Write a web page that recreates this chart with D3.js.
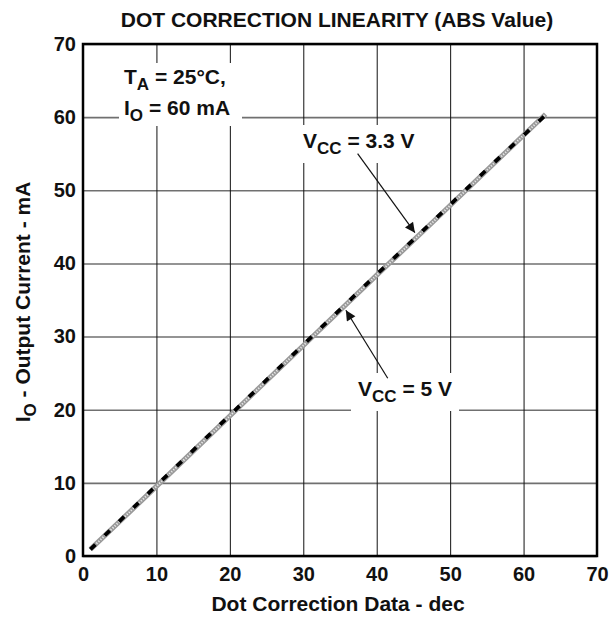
<!DOCTYPE html>
<html>
<head>
<meta charset="utf-8">
<script src="https://cdn.jsdelivr.net/npm/d3@7"></script>
<style>
  html, body { margin: 0; padding: 0; background: #fff; overflow: hidden; }
  svg { display: block; }
  text { font-family: Arial, "Liberation Sans", Helvetica, sans-serif; font-weight: bold; fill: #111; }
</style>
</head>
<body>
<div id="chart"></div>
<script>
// data
var xTicks = [0, 10, 20, 30, 40, 50, 60, 70]
var yTicks = [0, 10, 20, 30, 40, 50, 60, 70]
var dotData = [1, 8, 16, 24, 32, 40, 48, 56, 63]
var current33 = [0.9, 7.6, 15.3, 23.0, 30.7, 38.4, 46.0, 53.7, 60.4]
var current5 = [0.9, 7.7, 15.4, 23.1, 30.8, 38.5, 46.1, 53.8, 60.3]

var width = 610
var height = 620
var margin = {top: 44, right: 13, bottom: 64, left: 83}
var innerWidth = width - margin.left - margin.right
var innerHeight = height - margin.top - margin.bottom

var svg = d3.select('#chart')
    .append('svg').attr('width', width).attr('height', height)

// title
svg.append('text')
    .attr('x', 337)
    .attr('y', 27)
    .attr('text-anchor', 'middle')
    .style('font-size', '21px')
    .text('DOT CORRECTION LINEARITY (ABS Value)')

var g = svg.append('g').attr('transform', `translate(${margin.left}, ${margin.top})`)

var x = d3.scaleLinear().domain([0, 70]).range([0, innerWidth])
var y = d3.scaleLinear().domain([0, 70]).range([innerHeight, 0])

// grid: horizontal gray, vertical black
var gy = g.append('g')
    .call(d3.axisLeft(y).tickValues(yTicks).tickSize(-innerWidth).tickFormat(''))
gy.select('.domain').remove()
gy.selectAll('text').remove()
gy.selectAll('line').attr('stroke', '#707070').attr('stroke-width', 1.6)

var gx = g.append('g')
    .call(d3.axisBottom(x).tickValues(xTicks).tickSize(innerHeight).tickFormat(''))
gx.select('.domain').remove()
gx.selectAll('text').remove()
gx.selectAll('line').attr('stroke', '#111').attr('stroke-width', 1)

// tick labels
g.append('g')
    .attr('transform', `translate(0, ${innerHeight})`)
    .call(d3.axisBottom(x).tickValues(xTicks).tickSize(0).tickPadding(11).tickFormat(d3.format('d')))
    .call(s => s.select('.domain').remove())
    .selectAll('text').style('font-size', '20px').style('font-family', 'Arial, "Liberation Sans", sans-serif').attr('fill', '#111')
g.append('g')
    .call(d3.axisLeft(y).tickValues(yTicks).tickSize(0).tickPadding(7).tickFormat(d3.format('d')))
    .call(s => s.select('.domain').remove())
    .selectAll('text').style('font-size', '20px').style('font-family', 'Arial, "Liberation Sans", sans-serif').attr('fill', '#111')

// white boxes behind the annotations
g.append('rect').attr('x', 36).attr('y', 19).attr('width', 123).attr('height', 63).attr('fill', '#fff')
g.append('rect').attr('x', 215).attr('y', 81).attr('width', 122).attr('height', 38).attr('fill', '#fff')
g.append('rect').attr('x', 268).attr('y', 329).attr('width', 108).attr('height', 38).attr('fill', '#fff')

// lines
var pts33 = dotData.map((d, i) => [d, current33[i]])
var pts5 = dotData.map((d, i) => [d, current5[i]])
var line = d3.line().x(d => x(d[0])).y(d => y(d[1]))

g.append('path').datum(pts33)
    .attr('d', line).attr('fill', 'none')
    .attr('stroke', '#9a9a9a').attr('stroke-width', 5)
g.append('path').datum(pts33)
    .attr('d', line).attr('fill', 'none')
    .attr('stroke', '#e8e8e8').attr('stroke-width', 2)
    .attr('stroke-dasharray', '1.2,1.6')
g.append('path').datum(pts5)
    .attr('d', line).attr('fill', 'none')
    .attr('stroke', '#000').attr('stroke-width', 3.8)
    .attr('stroke-dasharray', '7,13')

// plot border
g.append('rect')
    .attr('width', innerWidth).attr('height', innerHeight)
    .attr('fill', 'none').attr('stroke', '#000').attr('stroke-width', 2.5)

// annotations
function subLabel(px, py, main, sub, rest) {
    var t = g.append('text').attr('x', px).attr('y', py).style('font-size', '21px')
    t.append('tspan').text(main)
    t.append('tspan').attr('dy', 6).style('font-size', '17px').text(sub)
    t.append('tspan').attr('dy', -6).text(rest)
}
subLabel(41, 40, 'T', 'A', ' = 25°C,')
subLabel(41, 71, 'I', 'O', ' = 60 mA')
subLabel(220, 104, 'V', 'CC', ' = 3.3 V')
subLabel(275, 352, 'V', 'CC', ' = 5 V')

// arrows
svg.append('defs').append('marker')
    .attr('id', 'arrow')
    .attr('viewBox', '0 0 10 10')
    .attr('refX', 10).attr('refY', 5)
    .attr('markerWidth', 13).attr('markerHeight', 10)
    .attr('markerUnits', 'userSpaceOnUse')
    .attr('orient', 'auto')
    .append('path').attr('d', 'M0,0 L10,5 L0,10 z').attr('fill', '#111')

g.append('line')
    .attr('x1', x(37.4)).attr('y1', y(55.0))
    .attr('x2', x(45.2)).attr('y2', y(44.2))
    .attr('stroke', '#111').attr('stroke-width', 1.2)
    .attr('marker-end', 'url(#arrow)')
g.append('line')
    .attr('x1', x(41.5)).attr('y1', y(24.3))
    .attr('x2', x(35.8)).attr('y2', y(33.6))
    .attr('stroke', '#111').attr('stroke-width', 1.2)
    .attr('marker-end', 'url(#arrow)')

// axis titles
svg.append('text')
    .attr('x', 338)
    .attr('y', 611)
    .attr('text-anchor', 'middle')
    .style('font-size', '21px')
    .text('Dot Correction Data - dec')

var yt = svg.append('text')
    .attr('transform', `translate(30, 302) rotate(-90)`)
    .attr('text-anchor', 'middle')
    .style('font-size', '21px')
yt.append('tspan').text('I')
yt.append('tspan').attr('dy', 6).style('font-size', '17px').text('O')
yt.append('tspan').attr('dy', -6).text(' - Output Current - mA')
</script>
</body>
</html>
